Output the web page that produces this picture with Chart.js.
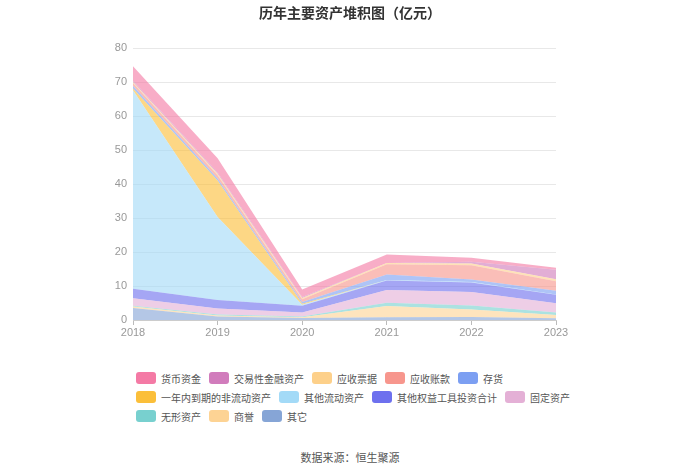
<!DOCTYPE html>
<html>
<head>
<meta charset="utf-8">
<script src="https://cdn.jsdelivr.net/npm/chart.js@4"></script>
<style>
  body { margin: 0; background: #fff; font-family: "Noto Sans CJK SC", "Noto Sans", sans-serif; }
  #wrap { position: relative; width: 700px; height: 474px; }
  #title { position: absolute; top: 2px; left: 0; width: 700px; text-align: center;
           font-size: 14px; font-weight: bold; color: #333; }
  #chartBox { position: absolute; top: 0; left: 0; width: 700px; height: 345px; }
  #legend { position: absolute; left: 136px; top: 371px; width: 445px;
            display: flex; flex-wrap: wrap; row-gap: 5px; }
  .item { display: flex; align-items: center; margin-right: 8px; height: 14px;
          font-size: 10px; color: #555; white-space: nowrap; }
  .box { width: 20px; height: 12px; border-radius: 3px; margin-right: 5px; }
  #source { position: absolute; top: 449px; left: 0; width: 700px; text-align: center;
            font-size: 11px; color: #555; }
</style>
</head>
<body>
<div id="wrap">
  <div id="chartBox"><canvas id="chart"></canvas></div>
  <div id="title">历年主要资产堆积图（亿元）</div>
  <div id="legend"></div>
  <div id="source">数据来源：恒生聚源</div>
</div>
<script>
// Années
const years = ['2018', '2019', '2020', '2021', '2022', '2023'];
const yTicks = [0, 10, 20, 30, 40, 50, 60, 70, 80];

// Séries (ordre de la légende, du haut de la pile vers le bas)
const names = ['货币资金', '交易性金融资产', '应收票据', '应收账款', '存货',
               '一年内到期的非流动资产', '其他流动资产', '其他权益工具投资合计',
               '固定资产', '无形资产', '商誉', '其它'];
const colors = ['#f47aa5', '#d17cbc', '#fdd08a', '#f7968d', '#7c9ff2',
                '#fbbf3a', '#a3daf7', '#6d70ee', '#e4b0d6', '#78d0cf', '#fdd394', '#86a5d6'];

const cash        = [4.2, 4.2, 2.2, 2.5, 1.2, 0.6];
const tradingFin  = [0.4, 0.4, 0.3, 0.0, 0.5, 2.8];
const notesRec    = [0.3, 0.4, 0.4, 0.4, 0.5, 0.6];
const accountsRec = [0.8, 1.0, 0.8, 3.0, 4.2, 2.8];
const inventory   = [0.8, 0.6, 0.5, 1.6, 0.7, 1.1];
const nonCurDue   = [0.5, 10.7, 0.3, 0.0, 0.0, 0.0];
const otherCur    = [58.4, 24.4, 0.3, 0.2, 0.2, 0.1];
const otherEquity = [2.8, 2.5, 2.0, 2.8, 2.8, 2.5];
const fixedAssets = [2.2, 1.8, 1.2, 3.7, 3.9, 2.7];
const intangible  = [0.2, 0.3, 0.2, 1.0, 1.2, 0.7];
const goodwill    = [0.5, 0.3, 0.2, 3.3, 2.2, 1.0];
const others      = [3.5, 1.0, 0.6, 0.8, 0.9, 0.5];

const seriesData = [cash, tradingFin, notesRec, accountsRec, inventory, nonCurDue,
                    otherCur, otherEquity, fixedAssets, intangible, goodwill, others];

function hexA(hex, a) {
    const n = parseInt(hex.slice(1), 16);
    return `rgba(${(n >> 16) & 255},${(n >> 8) & 255},${n & 255},${a})`;
}

// Pile : le premier dataset est en bas → on inverse l'ordre de la légende
const datasets = [];
for (let i = names.length - 1; i >= 0; i--) {
    datasets.push({
        label: names[i],
        data: seriesData[i],
        backgroundColor: hexA(colors[i], 0.62),
        borderWidth: 0,
        pointRadius: 0,
        tension: 0,
        fill: datasets.length === 0 ? 'origin' : '-1'
    });
}

new Chart(document.getElementById('chart'), {
    type: 'line',
    data: { labels: years, datasets: datasets },
    options: {
        responsive: true,
        maintainAspectRatio: false,
        animation: false,
        layout: { padding: { top: 48, left: 0, right: 144, bottom: 0 } },
        plugins: { legend: { display: false }, tooltip: { enabled: false } },
        scales: {
            x: {
                offset: false,
                grid: { display: true, drawOnChartArea: false, drawTicks: true, tickLength: 5, color: '#bbb' },
                border: { display: true, color: '#ccc' },
                ticks: { color: '#999', font: { size: 11 }, padding: 1, maxRotation: 0 },
                afterFit: (s) => { s.height = 25; }
            },
            y: {
                stacked: true,
                min: 0,
                max: 80,
                afterBuildTicks: (s) => { s.ticks = yTicks.map(v => ({ value: v })); },
                grid: { color: '#e8e8e8', drawTicks: false },
                border: { display: false },
                ticks: { color: '#999', font: { size: 11 }, padding: 6 },
                afterFit: (s) => { s.width = 133; }
            }
        }
    }
});

// Légende HTML
const legendEl = document.getElementById('legend');
names.forEach((n, i) => {
    const it = document.createElement('div');
    it.className = 'item';
    it.innerHTML = `<span class="box" style="background:${colors[i]}"></span><span>${n}</span>`;
    legendEl.appendChild(it);
});
</script>
</body>
</html>
